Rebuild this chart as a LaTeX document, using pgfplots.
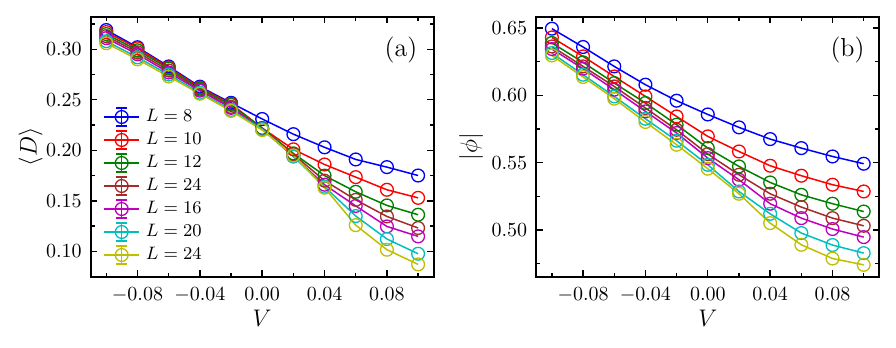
\documentclass[border=0pt]{standalone}
\usepackage{pgfplots}
\usepackage{pgfplotstable}
\pgfplotsset{compat=1.18}
\definecolor{cB}{rgb}{0,0,1}
\definecolor{cR}{rgb}{1,0,0}
\definecolor{cG}{rgb}{0,0.5,0}
\definecolor{cBr}{rgb}{0.647,0.165,0.165}
\definecolor{cM}{rgb}{0.75,0,0.75}
\definecolor{cC}{rgb}{0,0.75,0.75}
\definecolor{cY}{rgb}{0.75,0.75,0}
\pgfplotstableread{
V      L8     L10    L12    L14    L16    L20    L24
-0.10 0.319 0.317 0.315 0.313 0.311 0.308 0.306
-0.08 0.302 0.301 0.299 0.297 0.295 0.292 0.290
-0.06 0.283 0.282 0.281 0.279 0.277 0.275 0.273
-0.04 0.263 0.262 0.261 0.260 0.259 0.257 0.256
-0.02 0.247 0.246 0.245 0.243 0.242 0.240 0.239
0.00  0.231 0.222 0.222 0.221 0.221 0.221 0.220
0.02  0.216 0.201 0.197 0.196 0.194 0.194 0.195
0.04  0.203 0.186 0.175 0.170 0.166 0.164 0.163
0.06  0.191 0.1735 0.159 0.151 0.145 0.135 0.126
0.08  0.1834 0.161 0.1455 0.1346 0.1247 0.1123 0.1017
0.10  0.1751 0.153 0.1363 0.1232 0.1149 0.0977 0.0872
}\tabD
\pgfplotstableread{
V      L8     L10    L12    L14    L16    L20    L24
-0.10 0.6495 0.643 0.6389 0.6363 0.6344 0.6314 0.6296
-0.08 0.6359 0.6289 0.6245 0.6215 0.6198 0.6153 0.6136
-0.06 0.6215 0.614 0.6091 0.6066 0.6042 0.5992 0.5975
-0.04 0.6079 0.5992 0.5943 0.5906 0.5881 0.5826 0.5802
-0.02 0.596 0.5843 0.5782 0.5744 0.572 0.5663 0.5633
0.00 0.5858 0.5695 0.5608 0.5564 0.5534 0.5484 0.5455
0.02 0.5762 0.5583 0.5472 0.541 0.5373 0.5286 0.5269
0.04 0.5675 0.5477 0.5353 0.5269 0.5195 0.512 0.5051
0.06 0.5608 0.5403 0.5261 0.517 0.5088 0.4977 0.489
0.08 0.5546 0.5336 0.5195 0.5088 0.5007 0.4888 0.4788
0.10 0.5492 0.5286 0.5137 0.5031 0.4947 0.4828 0.4741
}\tabP
\pgfplotsset{
  panel/.style={
    scale only axis, width=171.5pt, height=130pt,
    xmin=-0.11, xmax=0.11,
    xtick={-0.08,-0.04,0,0.04,0.08},
    minor xtick={-0.10,-0.06,-0.02,0.02,0.06,0.10},
    tick align=inside,
    major tick length=3.3pt, minor tick length=2pt,
    every tick/.style={black, line width=0.7pt},
    axis line style={line width=0.9pt},
    ticklabel style={font=\fontsize{9.6}{11}\selectfont},
    xticklabel style={yshift=-2pt, /pgf/number format/.cd, fixed, fixed zerofill, precision=2},
    yticklabel style={xshift=-1pt, /pgf/number format/.cd, fixed, fixed zerofill, precision=2},
    label style={font=\fontsize{12.5}{14}\selectfont},
    xlabel={$V$},
    xlabel style={at={(axis description cs:0.5,-0.1615)}, anchor=center},
    every axis plot/.append style={line width=0.75pt, mark=o, mark size=3.2pt, mark options={line width=0.65pt}},
    legend image code/.code={
      \draw[mark repeat=2,mark phase=2,##1] plot coordinates {(0pt,0pt) (8.75pt,0pt) (17.5pt,0pt)};
      \draw[##1] (8.75pt,-4.5pt) -- (8.75pt,4.5pt) (6.1pt,-4.5pt) -- (11.4pt,-4.5pt) (6.1pt,4.5pt) -- (11.4pt,4.5pt);
    },
  }
}
\begin{document}
\begin{tikzpicture}
\useasboundingbox (-45.35pt,-35.5pt) rectangle (402.65pt,138.35pt);
\begin{axis}[panel, at={(0pt,0pt)}, anchor=south west,
  ymin=0.075, ymax=0.3322,
  ytick={0.10,0.15,0.20,0.25,0.30},
  minor ytick={0.125,0.175,0.225,0.275,0.325},
  ylabel={$\langle D\rangle$},
  ylabel style={at={(axis description cs:-0.175,0.5)}, anchor=center},
  legend cell align=left,
  legend style={draw=none, fill=none, at={(axis description cs:0.036,0.66)}, anchor=north west, inner sep=0pt, row sep=0pt,
    font=\fontsize{9.2}{10}\selectfont,
    nodes={inner xsep=3pt, inner ysep=1pt, text height=7pt, text depth=2.5pt}},
]
\addplot[cB]  table[x=V,y=L8]  {\tabD}; \addlegendentry{$L=8$}
\addplot[cR]  table[x=V,y=L10] {\tabD}; \addlegendentry{$L=10$}
\addplot[cG]  table[x=V,y=L12] {\tabD}; \addlegendentry{$L=12$}
\addplot[cBr] table[x=V,y=L14] {\tabD}; \addlegendentry{$L=24$}
\addplot[cM]  table[x=V,y=L16] {\tabD}; \addlegendentry{$L=16$}
\addplot[cC]  table[x=V,y=L20] {\tabD}; \addlegendentry{$L=20$}
\addplot[cY]  table[x=V,y=L24] {\tabD}; \addlegendentry{$L=24$}
\node[anchor=north east, inner sep=0pt, font=\fontsize{13}{15}\selectfont] at ([xshift=-8pt,yshift=-10pt]rel axis cs:1,1) {(a)};
\end{axis}
\begin{axis}[panel, at={(222.8pt,0pt)}, anchor=south west,
  ymin=0.4653, ymax=0.6584,
  ytick={0.50,0.55,0.60,0.65},
  minor ytick={0.475,0.525,0.575,0.625},
  ylabel={$|\phi|$},
  ylabel style={at={(axis description cs:-0.19,0.5)}, anchor=center},
]
\addplot[cB]  table[x=V,y=L8]  {\tabP};
\addplot[cR]  table[x=V,y=L10] {\tabP};
\addplot[cG]  table[x=V,y=L12] {\tabP};
\addplot[cBr] table[x=V,y=L14] {\tabP};
\addplot[cM]  table[x=V,y=L16] {\tabP};
\addplot[cC]  table[x=V,y=L20] {\tabP};
\addplot[cY]  table[x=V,y=L24] {\tabP};
\node[anchor=north east, inner sep=0pt, font=\fontsize{13}{15}\selectfont] at ([xshift=-7.2pt,yshift=-10pt]rel axis cs:1,1) {(b)};
\end{axis}
\end{tikzpicture}
\end{document}
